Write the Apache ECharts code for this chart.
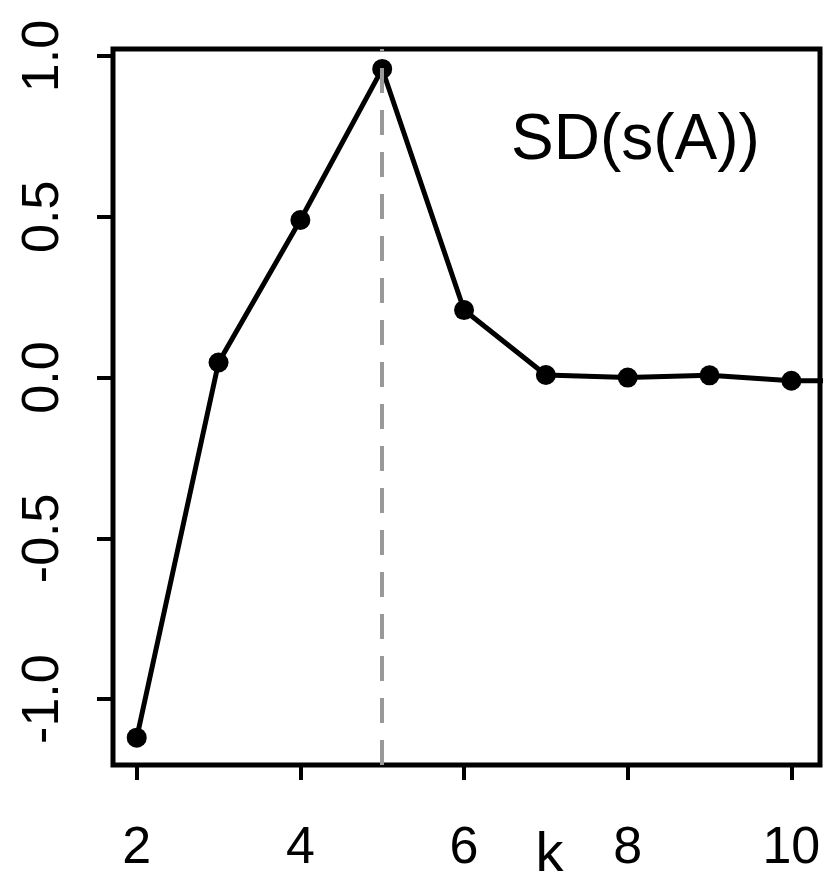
<!DOCTYPE html>
<html>
<head>
<meta charset="utf-8">
<script src="https://cdn.jsdelivr.net/npm/echarts@6/dist/echarts.min.js"></script>
<style>
  html, body { margin: 0; padding: 0; background: #fff; }
  #chart { width: 831px; height: 889px; }
</style>
</head>
<body>
<div id="chart"></div>
<script>
// k values (11 lies just outside the plot, line runs off the right edge)
const kValues = [2, 3, 4, 5, 6, 7, 8, 9, 10, 11];
const sdValues = [-1.12, 0.047, 0.49, 0.96, 0.21, 0.008, 0.0, 0.007, -0.01, -0.01];
const xTicks = [2, 4, 6, 8, 10];
const yTicks = [-1, -0.5, 0, 0.5, 1];
const bestK = 5;

const chart = echarts.init(document.getElementById('chart'));
const font = '"Liberation Sans", Arial, sans-serif';

chart.setOption({
  animation: false,
  backgroundColor: '#fff',
  grid: {
    left: 113, right: 11, top: 49, bottom: 124,
    outerBoundsMode: 'none',
    containLabel: false,
    show: true, borderColor: '#000', borderWidth: 5,
  },
  title: {
    text: 'SD(s(A))',
    left: 506, top: 104,
    textStyle: { fontFamily: font, fontSize: 64, fontWeight: 'normal', color: '#000' },
  },
  xAxis: {
    type: 'value',
    min: 1.71, max: 10.35,
    name: 'k',
    nameLocation: 'middle',
    nameGap: 63,
    nameMoveOverlap: false,
    nameTextStyle: { fontFamily: font, fontSize: 56, color: '#000', padding: [0, 0, 0, 166] },
    splitLine: { show: false },
    axisLine: { show: false, onZero: false },
    axisTick: { show: true, customValues: xTicks, length: 15, lineStyle: { color: '#000', width: 4 } },
    axisLabel: {
      customValues: xTicks,
      margin: 58,
      fontFamily: font, fontSize: 52, color: '#000',
      formatter: v => String(v),
    },
  },
  yAxis: {
    type: 'value',
    min: -1.205, max: 1.022,
    splitLine: { show: false },
    axisLine: { show: false, onZero: false },
    axisTick: { show: true, customValues: yTicks, length: 16, lineStyle: { color: '#000', width: 4 } },
    axisLabel: {
      customValues: yTicks,
      rotate: 90,
      margin: 43,
      fontFamily: font, fontSize: 52, color: '#000',
      formatter: v => v.toFixed(1),
    },
  },
  series: [{
    type: 'line',
    data: kValues.map((k, i) => [k, sdValues[i]]),
    symbol: 'circle',
    symbolSize: 20,
    clip: true,
    itemStyle: { color: '#000' },
    lineStyle: { color: '#000', width: 5 },
    markLine: {
      silent: true,
      symbol: 'none',
      label: { show: false },
      lineStyle: { color: '#999', type: [25, 17], width: 4 },
      data: [{ xAxis: bestK }],
    },
  }],
});
</script>
</body>
</html>
